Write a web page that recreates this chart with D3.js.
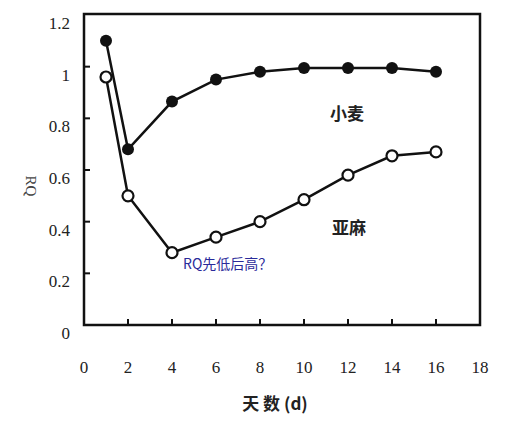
<!DOCTYPE html><html><head><meta charset="utf-8"><script src="https://cdn.jsdelivr.net/npm/d3@7"></script>
<style>body{margin:0;background:#fff}</style></head><body><svg id="c" width="520" height="421"></svg>
<script>
const days=[1,2,4,6,8,10,12,14,16];
const wheat=[1.10,0.68,0.865,0.95,0.98,0.995,0.995,0.995,0.98];
const flax=[0.96,0.50,0.28,0.34,0.40,0.485,0.58,0.655,0.67];
const xTicks=[0,2,4,6,8,10,12,14,16,18];
const yTicks=[0,0.2,0.4,0.6,0.8,1,1.2];
const yLabels=["0","0.2","0.4","0.6","0.8","1","1.2"];
const svg=d3.select("#c");
const x=d3.scaleLinear().domain([0,18]).range([84,480]);
const y=d3.scaleLinear().domain([0,1.2]).range([325,15]);
const ser="'Liberation Serif','DejaVu Serif',serif";
const col="#111";
svg.append("rect").attr("x",84).attr("y",14).attr("width",396).attr("height",311).attr("fill","none").attr("stroke",col).attr("stroke-width",2.5);
xTicks.slice(1,-1).forEach(t=>svg.append("line").attr("x1",x(t)).attr("x2",x(t)).attr("y1",325).attr("y2",319).attr("stroke",col).attr("stroke-width",2));
yTicks.slice(1,-1).forEach(t=>svg.append("line").attr("x1",84).attr("x2",90).attr("y1",y(t)).attr("y2",y(t)).attr("stroke",col).attr("stroke-width",2));
xTicks.forEach(t=>svg.append("text").attr("x",x(t)).attr("y",373).attr("text-anchor","middle").attr("font-family",ser).attr("font-size",17).attr("fill","#222").text(t));
yTicks.forEach((t,i)=>svg.append("text").attr("x",70).attr("y",y(t)+14).attr("text-anchor","end").attr("font-family",ser).attr("font-size",17).attr("fill","#222").text(yLabels[i]));
const line=d3.line().x((d,i)=>x(days[i])).y(d=>y(d));
svg.append("path").attr("d",line(flax)).attr("fill","none").attr("stroke",col).attr("stroke-width",2.5);
svg.append("path").attr("d",line(wheat)).attr("fill","none").attr("stroke",col).attr("stroke-width",2.5);
svg.selectAll(".w").data(wheat).enter().append("circle").attr("cx",(d,i)=>x(days[i])).attr("cy",d=>y(d)).attr("r",6).attr("fill",col);
svg.selectAll(".f").data(flax).enter().append("circle").attr("cx",(d,i)=>x(days[i])).attr("cy",d=>y(d)).attr("r",5.5).attr("fill","#fff").attr("stroke",col).attr("stroke-width",2.2);
svg.append("text").attr("x",330).attr("y",120).attr("font-family","'Noto Sans CJK SC'").attr("font-weight","bold").attr("font-size",17).attr("fill","#222").text("小麦");
svg.append("text").attr("x",332).attr("y",234).attr("font-family","'Noto Sans CJK SC'").attr("font-weight","bold").attr("font-size",17).attr("fill","#222").text("亚麻");
svg.append("text").attr("x",183).attr("y",269).attr("font-family","'Noto Sans CJK SC'").attr("font-size",14).attr("fill","#2a2a9a").text("RQ先低后高？");
svg.append("text").attr("x",275).attr("y",410).attr("text-anchor","middle").attr("font-family","'Noto Sans CJK SC'").attr("font-weight","bold").attr("font-size",17).attr("fill","#222").attr("xml:space","preserve").text("天 数 (d)");
svg.append("text").attr("transform","translate(26,186) rotate(90)").attr("text-anchor","middle").attr("font-family",ser).attr("font-size",15).attr("fill","#444").text("RQ");
</script></body></html>
